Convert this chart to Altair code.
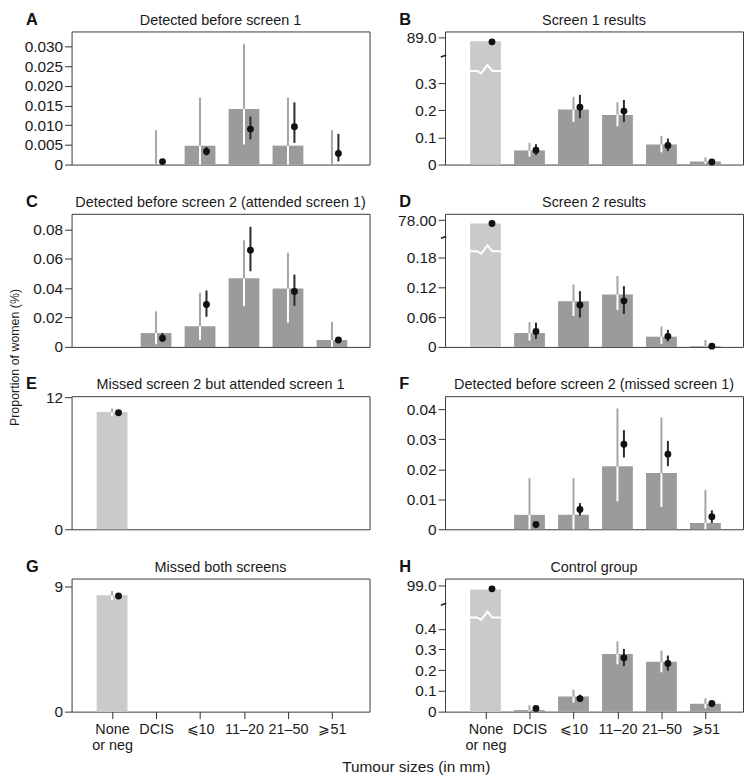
import altair as alt
import pandas as pd

categories = ["None|or neg", "DCIS", "⩽10", "11–20", "21–50", "⩾51"]
idx = [1, 2, 3, 4, 5, 6]

# ---- observed bars, their CIs, model predictions and their CIs (%) ----
A_obs     = [None, 0.0, 0.0048, 0.0141, 0.0048, 0.0]
A_obs_lo  = [None, 0.0, 0.0, 0.0051, 0.0, 0.0]
A_obs_hi  = [None, 0.0087, 0.0170, 0.0307, 0.0170, 0.0087]
A_pred    = [None, 0.00075, 0.0033, 0.0090, 0.0096, 0.0028]
A_pred_lo = [None, 0.0003, 0.0023, 0.0064, 0.0055, 0.0008]
A_pred_hi = [None, 0.0012, 0.0045, 0.0122, 0.0158, 0.0078]

B_obs     = [88.81, 0.052, 0.2026, 0.183, 0.074, 0.011]
B_obs_lo  = [None, 0.029, 0.157, 0.1407, 0.0448, 0.003]
B_obs_hi  = [None, 0.080, 0.250, 0.2296, 0.1057, 0.0266]
B_pred    = [88.78, 0.053, 0.211, 0.197, 0.0703, 0.0095]
B_pred_lo = [None, 0.035, 0.171, 0.157, 0.0496, 0.005]
B_pred_hi = [None, 0.075, 0.257, 0.238, 0.0958, 0.014]

C_obs     = [None, 0.0094, 0.0141, 0.0467, 0.0397, 0.0047]
C_obs_lo  = [None, 0.0018, 0.0047, 0.0276, 0.0165, 0.0]
C_obs_hi  = [None, 0.0242, 0.0368, 0.0725, 0.0640, 0.0171]
C_pred    = [None, 0.0059, 0.0288, 0.0658, 0.0377, 0.0047]
C_pred_lo = [None, 0.0035, 0.0205, 0.0514, 0.0279, 0.0030]
C_pred_hi = [None, 0.0095, 0.0384, 0.0817, 0.0492, 0.0065]

D_obs     = [77.8, 0.028, 0.092, 0.106, 0.0206, 0.0013]
D_obs_lo  = [None, 0.0126, 0.0626, 0.0746, 0.006, 0.0]
D_obs_hi  = [None, 0.050, 0.126, 0.143, 0.0413, 0.014]
D_pred    = [77.8, 0.0313, 0.0846, 0.093, 0.0213, 0.0015]
D_pred_lo = [None, 0.016, 0.0593, 0.0666, 0.0113, 0.0005]
D_pred_hi = [None, 0.049, 0.1126, 0.1226, 0.0346, 0.003]

E_obs     = [10.67, None, None, None, None, None]
E_obs_lo  = [10.31, None, None, None, None, None]
E_obs_hi  = [10.98, None, None, None, None, None]
E_pred    = [10.61, None, None, None, None, None]
E_pred_lo = [None, None, None, None, None, None]
E_pred_hi = [None, None, None, None, None, None]

F_obs     = [None, 0.0048, 0.0048, 0.0210, 0.0187, 0.0021]
F_obs_lo  = [None, 0.0, 0.0, 0.0093, 0.0074, 0.0]
F_obs_hi  = [None, 0.0170, 0.0170, 0.0402, 0.0372, 0.0131]
F_pred    = [None, 0.0016, 0.0066, 0.0283, 0.0250, 0.0042]
F_pred_lo = [None, None, 0.0046, 0.0239, 0.0210, 0.0021]
F_pred_hi = [None, None, 0.0087, 0.0330, 0.0294, 0.0063]

G_obs     = [8.36, None, None, None, None, None]
G_obs_lo  = [8.00, None, None, None, None, None]
G_obs_hi  = [8.67, None, None, None, None, None]
G_pred    = [8.31, None, None, None, None, None]
G_pred_lo = [None, None, None, None, None, None]
G_pred_hi = [None, None, None, None, None, None]

H_obs     = [98.78, 0.0076, 0.073, 0.279, 0.241, 0.038]
H_obs_lo  = [None, 0.002, 0.044, 0.2286, 0.190, 0.016]
H_obs_hi  = [None, 0.031, 0.106, 0.3395, 0.295, 0.065]
H_pred    = [98.82, 0.0157, 0.063, 0.260, 0.233, 0.0395]
H_pred_lo = [None, 0.010, 0.048, 0.2205, 0.198, 0.030]
H_pred_hi = [None, 0.021, 0.082, 0.303, 0.271, 0.050]

letters = ["A", "B", "C", "D", "E", "F", "G", "H"]
titles = [
    "Detected before screen 1",
    "Screen 1 results",
    "Detected before screen 2 (attended screen 1)",
    "Screen 2 results",
    "Missed screen 2 but attended screen 1",
    "Detected before screen 2 (missed screen 1)",
    "Missed both screens",
    "Control group",
]
# y-axis: displayed top of axis, tick positions and tick labels
y_max = [0.0338, 0.4905, 0.0905, 0.2686, 12.12, 0.0443, 9.57, 0.643]
y_ticks = [
    [0, 0.005, 0.010, 0.015, 0.020, 0.025, 0.030],
    [0, 0.1, 0.2, 0.3, 0.467],
    [0, 0.02, 0.04, 0.06, 0.08],
    [0, 0.06, 0.12, 0.18, 0.256],
    [0, 12],
    [0, 0.01, 0.02, 0.03, 0.04],
    [0, 9],
    [0, 0.1, 0.2, 0.3, 0.4, 0.6095],
]
y_labels = [
    ["0", "0.005", "0.010", "0.015", "0.020", "0.025", "0.030"],
    ["0", "0.1", "0.2", "0.3", "89.0"],
    ["0", "0.02", "0.04", "0.06", "0.08"],
    ["0", "0.06", "0.12", "0.18", "78.00"],
    ["0", "12"],
    ["0", "0.01", "0.02", "0.03", "0.04"],
    ["0", "9"],
    ["0", "0.1", "0.2", "0.3", "0.4", "99.0"],
]
# broken axes: (value at break, axis position of break, top value, axis position of top, zigzag position)
breaks = [
    None,
    (88.0, 0.400, 89.0, 0.467, 0.345),
    None,
    (77.0, 0.221, 78.0, 0.256, 0.193),
    None,
    None,
    None,
    (98.0, 0.519, 99.0, 0.6095, 0.455),
]
series = [
    (A_obs, A_obs_lo, A_obs_hi, A_pred, A_pred_lo, A_pred_hi),
    (B_obs, B_obs_lo, B_obs_hi, B_pred, B_pred_lo, B_pred_hi),
    (C_obs, C_obs_lo, C_obs_hi, C_pred, C_pred_lo, C_pred_hi),
    (D_obs, D_obs_lo, D_obs_hi, D_pred, D_pred_lo, D_pred_hi),
    (E_obs, E_obs_lo, E_obs_hi, E_pred, E_pred_lo, E_pred_hi),
    (F_obs, F_obs_lo, F_obs_hi, F_pred, F_pred_lo, F_pred_hi),
    (G_obs, G_obs_lo, G_obs_hi, G_pred, G_pred_lo, G_pred_hi),
    (H_obs, H_obs_lo, H_obs_hi, H_pred, H_pred_lo, H_pred_hi),
]

W, H = 300, 134
BW = 31
OFF = 6.5
DARK = "#9b9b9b"
LIGHT = "#cacaca"
CI_GRAY = "#a6a6a6"
INK = "#1a1a1a"
FONT = "Liberation Sans"
ZIG = "M -1 0 L -0.54 0 L -0.29 0.16 L 0.13 -0.38 L 0.44 0 L 1 0"
AXBRK = "M -1 0.35 L 1 -0.35"

fields = ["obs", "obs_lo", "obs_hi", "pred", "pred_lo", "pred_hi"]
cats_js = "[" + ",".join("'" + c + "'" for c in categories) + "]"


def label_expr(vals, labs):
    e = ""
    for v, l in zip(vals, labs):
        e += f"abs(datum.value - {v}) < 1e-9 ? '{l}' : "
    return e + "''"


def make_panel(i):
    obs, lo, hi, pr, plo, phi = series[i]
    df = pd.DataFrame({"idx": idx, "obs": obs, "obs_lo": lo, "obs_hi": hi,
                       "pred": pr, "pred_lo": plo, "pred_hi": phi})
    brk = breaks[i]
    calcs = {}
    for f in fields:
        if brk:
            bv, bd, tv, td, _ = brk
            k = (td - bd) / (tv - bv)
            calcs[f + "_d"] = (f"isValid(datum.{f}) ? (datum.{f} > 1 ? {bd} + (datum.{f} - {bv}) * {k} "
                               f": datum.{f}) : null")
        else:
            calcs[f + "_d"] = f"isValid(datum.{f}) ? datum.{f} : null"
    base = alt.Chart(df).transform_calculate(**calcs)

    yscale = alt.Scale(domain=[0, y_max[i]], nice=False, zero=True)
    yaxis = alt.Axis(values=y_ticks[i], labelExpr=label_expr(y_ticks[i], y_labels[i]),
                     title=None, grid=False, domain=False, tickSize=7, tickColor="#333",
                     labelPadding=2, labelFontSize=15.5, labelColor=INK, labelFont=FONT)
    xscale = alt.Scale(domain=[0.192, 6.742], nice=False, zero=False)
    if i >= 6:
        xaxis = alt.Axis(values=idx, labelExpr=f"split({cats_js}[datum.value - 1], '|')",
                         title=None, grid=False, domain=False, tickSize=7, tickColor="#333",
                         labelPadding=4, labelFontSize=14.5, labelColor=INK, labelFont=FONT,
                         labelLineHeight=16, labelAngle=0)
    else:
        xaxis = None

    def X(field="idx:Q"):
        return alt.X(field, scale=xscale, axis=xaxis)

    def Y(field):
        return alt.Y(field, scale=yscale, axis=yaxis)

    bars = base.transform_filter("isValid(datum.obs_d)").mark_bar(width=BW).encode(
        x=X(), y=Y("obs_d:Q"),
        color=alt.condition("datum.idx == 1", alt.value(LIGHT), alt.value(DARK)))

    white_ci = base.transform_filter("isValid(datum.obs_hi_d) && isValid(datum.obs_d)").transform_calculate(
        w_lo="isValid(datum.obs_lo_d) ? datum.obs_lo_d : 0",
        w_hi="min(datum.obs_hi_d, datum.obs_d)").transform_filter(
        "datum.w_hi > datum.w_lo").mark_rule(color="white", strokeWidth=2).encode(
        x=X(), y=Y("w_lo:Q"), y2="w_hi:Q")

    gray_ci = base.transform_filter("isValid(datum.obs_hi_d)").transform_calculate(
        g_lo="max(isValid(datum.obs_d) ? datum.obs_d : 0, isValid(datum.obs_lo_d) ? datum.obs_lo_d : 0)",
        g_hi="datum.obs_hi_d").transform_filter("datum.g_hi > datum.g_lo").mark_rule(
        color=CI_GRAY, strokeWidth=2).encode(x=X(), y=Y("g_lo:Q"), y2="g_hi:Q")

    pred_ci = base.transform_filter("isValid(datum.pred_lo_d) && isValid(datum.pred_hi_d)").mark_rule(
        color="#2a2a2a", strokeWidth=2, xOffset=OFF).encode(
        x=X(), y=Y("pred_lo_d:Q"), y2="pred_hi_d:Q")

    points = base.transform_filter("isValid(datum.pred_d)").mark_circle(
        size=48, color="#111111", opacity=1, xOffset=OFF).encode(x=X(), y=Y("pred_d:Q"))

    layers = [bars, white_ci, gray_ci, pred_ci, points]

    if brk:
        bdf = pd.DataFrame({"idx": [1], "zig": [brk[4]], "ax": [brk[1]]})
        zig = alt.Chart(bdf).mark_point(shape=ZIG, size=BW * BW, filled=False, stroke="white",
                                        strokeWidth=2, opacity=1).encode(x=X(), y=Y("zig:Q"))
        axb = alt.Chart(bdf).mark_point(shape=AXBRK, size=30, filled=False, stroke="#222",
                                        strokeWidth=1.6, opacity=1).encode(
            x=alt.value(-1.5), y=Y("ax:Q"))
        layers += [zig, axb]

    letter = alt.Chart(pd.DataFrame({"t": [letters[i]]})).mark_text(
        align="left", baseline="alphabetic", fontSize=16.5, fontWeight="bold", color="#111",
        font=FONT).encode(x=alt.value(-46), y=alt.value(-7), text="t:N")
    title = alt.Chart(pd.DataFrame({"t": [titles[i]]})).mark_text(
        align="center", baseline="alphabetic", fontSize=14.5, color=INK, font=FONT).encode(
        x=alt.value(W / 2), y=alt.value(-7), text="t:N")
    layers += [letter, title]

    if i == 4:
        ytitle = alt.Chart(pd.DataFrame({"t": ["Proportion of women (%)"]})).mark_text(
            align="center", baseline="middle", angle=270, fontSize=12.5, color=INK, font=FONT).encode(
            x=alt.value(-57), y=alt.value(-39), text="t:N")
        layers.append(ytitle)
    if i == 6:
        xtitle = alt.Chart(pd.DataFrame({"t": ["Tumour sizes (in mm)"]})).mark_text(
            align="center", baseline="alphabetic", fontSize=15.5, color=INK, font=FONT).encode(
            x=alt.value(347), y=alt.value(H + 61), text="t:N")
        layers.append(xtitle)

    return alt.layer(*layers).properties(width=W, height=H)


panels = [make_panel(i) for i in range(8)]

chart = alt.concat(*panels, columns=2, spacing={"row": 49.6, "column": 76},
                   bounds="flush").properties(padding=0).configure(font=FONT).configure_view(
    stroke="#3a3a3a", strokeWidth=1)

chart.save("out.html", embed_options={"renderer": "svg", "actions": False})
